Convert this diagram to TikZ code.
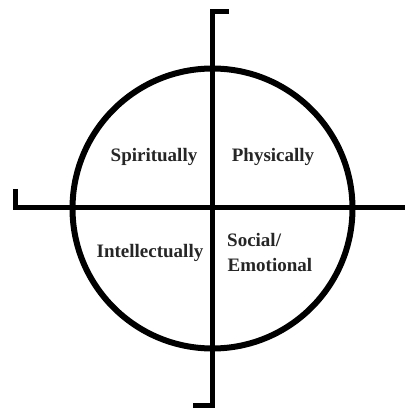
\documentclass[tikz,border=0pt]{standalone}
\usepackage{fontspec}
\setmainfont{Liberation Serif}
\begin{document}
\begin{tikzpicture}[x=1pt,y=1pt,
  axis/.style={line width=5pt, line join=miter, line cap=butt},
  ring/.style={line width=6pt},
  lbl/.style={font=\fontsize{19}{25}\selectfont\bfseries, inner sep=0pt, text=black!85}]
\useasboundingbox[fill=white] (0,0) rectangle (405,410);
\coordinate (topend) at (229,398.5);
\coordinate (top) at (212,398.5);
\coordinate (bot) at (212,4.5);
\coordinate (botend) at (193,4.5);
\coordinate (leftend) at (15.5,221);
\coordinate (left) at (15.5,202);
\coordinate (right) at (405,202);
\coordinate (c) at (212.5,201.5);
\draw[ring] (c) circle (140);
\draw[axis] (topend) -- (top) -- (bot) -- (botend);
\draw[axis] (leftend) -- (left) -- (right);
\node[lbl, anchor=base] (sp) at (154,248) {Spiritually};
\node[lbl, anchor=base] (ph) at (273,248) {Physically};
\node[lbl, anchor=base] (in) at (150,152) {Intellectually};
\node[lbl, anchor=base west] (so) at (227,163) {Social/};
\node[lbl, anchor=base west] (em) at (227.5,138) {Emotional};
\end{tikzpicture}
\end{document}
